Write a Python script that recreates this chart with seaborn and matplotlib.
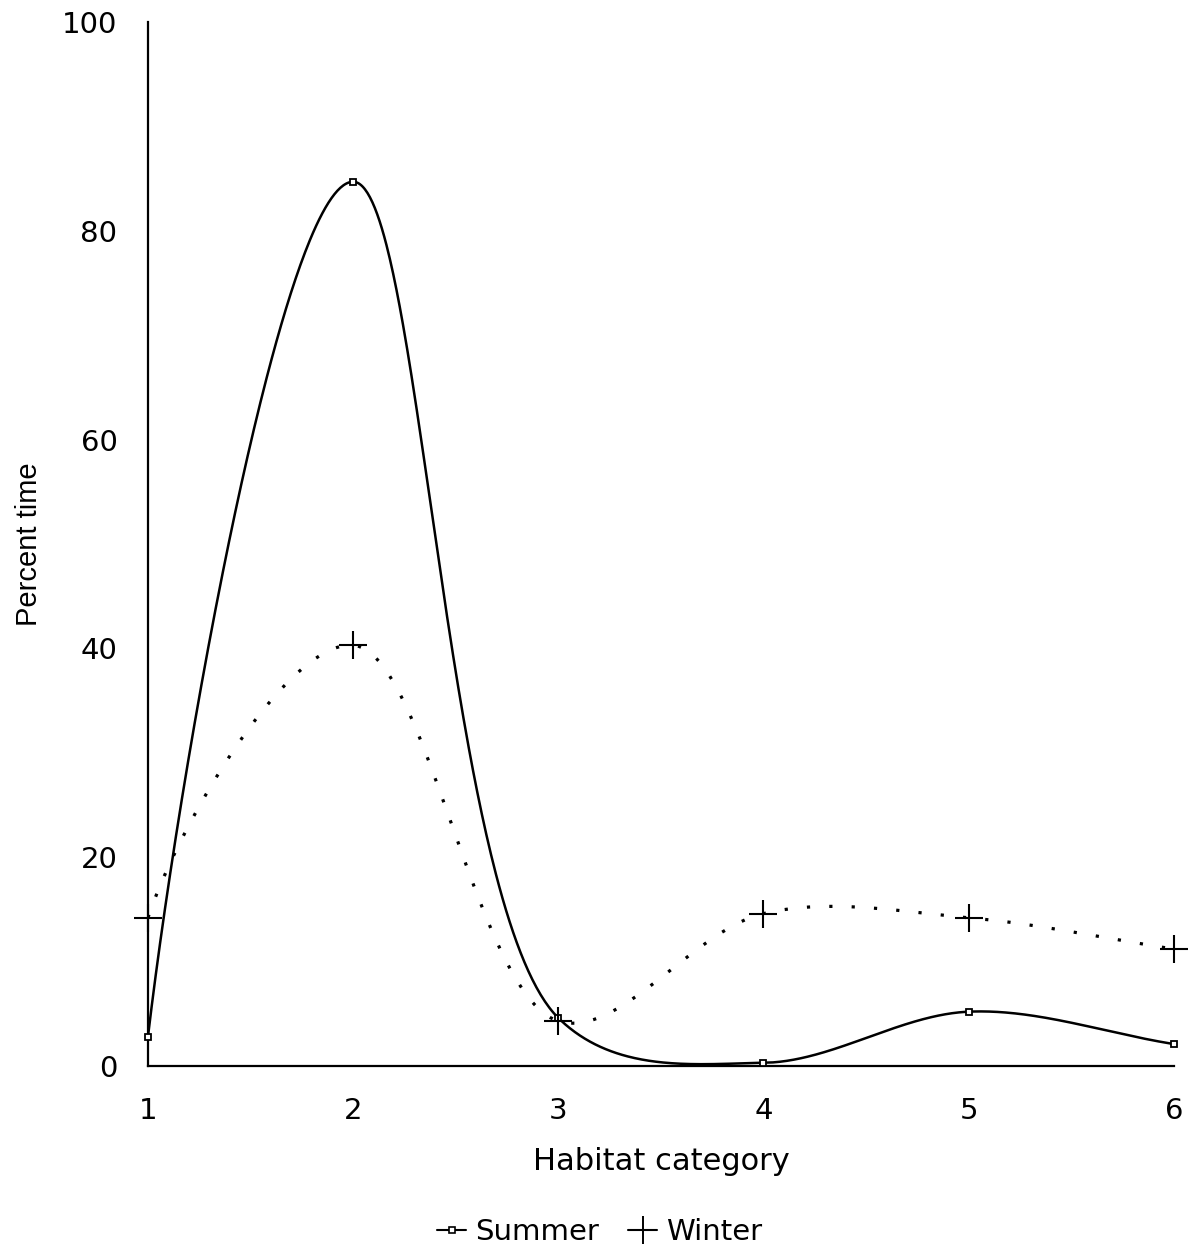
import numpy as np
import pandas as pd
import matplotlib
matplotlib.use("Agg")
import matplotlib.pyplot as plt
from matplotlib.lines import Line2D
import seaborn as sns

categories = [1, 2, 3, 4, 5, 6]
summer = [2.8, 84.7, 4.6, 0.3, 5.2, 2.1]
winter = [14.2, 40.3, 4.3, 14.6, 14.2, 11.2]
x_ticks = [1, 2, 3, 4, 5, 6]
y_ticks = [0, 20, 40, 60, 80, 100]


def centripetal_cr(x, y, sx=1.0, sy=0.05, n=150, alpha=0.5):
    """Centripetal Catmull-Rom smoothing through the points."""
    P = np.column_stack([np.asarray(x, float) * sx, np.asarray(y, float) * sy])
    # start phantom: mirror the neighbouring value vertically;
    # end phantom: plain reflection of the previous point
    first = np.array([P[0, 0], 2 * P[0, 1] - P[1, 1]])
    last = 2 * P[-1] - P[-2]
    P = np.vstack([first, P, last])
    out = []
    for i in range(1, len(P) - 2):
        p0, p1, p2, p3 = P[i - 1], P[i], P[i + 1], P[i + 2]
        t0 = 0.0
        t1 = t0 + max(np.linalg.norm(p1 - p0), 1e-6) ** alpha
        t2 = t1 + max(np.linalg.norm(p2 - p1), 1e-6) ** alpha
        t3 = t2 + max(np.linalg.norm(p3 - p2), 1e-6) ** alpha
        t = np.linspace(t1, t2, n)[:, None]
        a1 = (t1 - t) / (t1 - t0) * p0 + (t - t0) / (t1 - t0) * p1
        a2 = (t2 - t) / (t2 - t1) * p1 + (t - t1) / (t2 - t1) * p2
        a3 = (t3 - t) / (t3 - t2) * p2 + (t - t2) / (t3 - t2) * p3
        b1 = (t2 - t) / (t2 - t0) * a1 + (t - t0) / (t2 - t0) * a2
        b2 = (t3 - t) / (t3 - t1) * a2 + (t - t1) / (t3 - t1) * a3
        c = (t2 - t) / (t2 - t1) * b1 + (t - t1) / (t2 - t1) * b2
        out.append(c if i == 1 else c[1:])
    C = np.vstack(out)
    return C[:, 0] / sx, C[:, 1] / sy


sns.set_style("white")
plt.rcParams["font.family"] = ["DejaVu Sans"]
plt.rcParams["text.color"] = "black"
plt.rcParams["axes.labelcolor"] = "black"

fig = plt.figure(figsize=(11.99, 12.6), dpi=100)
ax = fig.add_axes([0.1234, 0.154, 0.8556, 0.8285])

xs_s, ys_s = centripetal_cr(categories, summer)
xs_w, ys_w = centripetal_cr(categories, winter)
curve_s = pd.DataFrame({"x": xs_s, "y": np.clip(ys_s, 0, None)})
curve_w = pd.DataFrame({"x": xs_w, "y": np.clip(ys_w, 0, None)})
pts = pd.DataFrame({
    "x": categories * 2,
    "y": summer + winter,
    "season": ["Summer"] * 6 + ["Winter"] * 6,
})

sns.lineplot(data=curve_s, x="x", y="y", ax=ax, color="black", lw=1.8,
             sort=False, legend=False, estimator=None)
sns.lineplot(data=curve_w, x="x", y="y", ax=ax, color="black", lw=2.3,
             sort=False, legend=False, estimator=None,
             linestyle=(0, (1, 6)))
s_pts = pts[pts.season == "Summer"]
w_pts = pts[pts.season == "Winter"]
ax.plot(s_pts.x, s_pts.y, ls="none", marker="s", ms=5, mfc="white",
        mec="black", mew=1.3, clip_on=False, zorder=5)
ax.plot(w_pts.x, w_pts.y, ls="none", marker="+", ms=20, mec="black",
        mew=1.5, clip_on=False, zorder=5)

ax.set_xlim(1, 6)
ax.set_ylim(0, 100)
ax.set_xticks(x_ticks)
ax.set_yticks(y_ticks)
ax.tick_params(axis="both", direction="out", length=14, width=1.6,
               labelsize=21, pad=8, colors="black")
for s in ["top", "right"]:
    ax.spines[s].set_visible(False)
for s in ["left", "bottom"]:
    ax.spines[s].set_linewidth(1.6)
    ax.spines[s].set_color("black")
ax.set_xlabel("Habitat category", fontsize=22, labelpad=16)
ax.set_ylabel("Percent time", fontsize=21, family=["Liberation Sans"],
              labelpad=14)

handles = [
    Line2D([], [], color="black", lw=1.5, marker="s", ms=4, mfc="white",
           mew=1.2),
    Line2D([], [], color="black", lw=1.5, marker="+", ms=20, mew=1.4),
]
fig.legend(handles, ["Summer", "Winter"], loc="center",
           bbox_to_anchor=(0.5, 1 - 1232 / 1260), ncol=2, frameon=False,
           fontsize=21, handlelength=1.0, handletextpad=0.3,
           columnspacing=1.0)

fig.savefig("out.png", dpi=100)
